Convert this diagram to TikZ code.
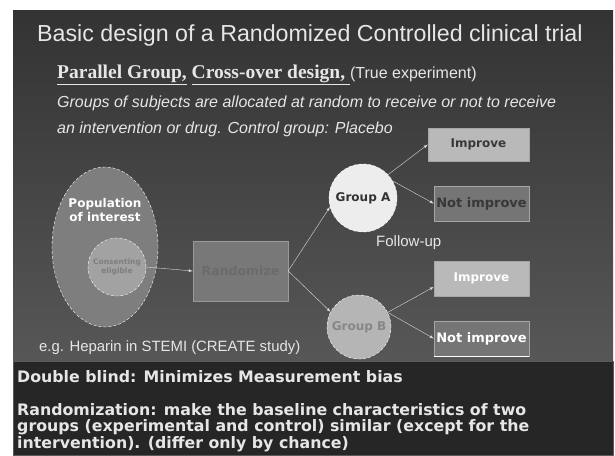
\documentclass[tikz,border=0pt]{standalone}
\usepackage{fontspec}
\usepackage{xcolor}
\setmainfont{Liberation Sans}
\newfontfamily\heavyfont{DejaVu Sans}
\newfontfamily\oldfont{Liberation Serif}
\usetikzlibrary{shapes.geometric}

\definecolor{bgtop}{HTML}{333333}
\definecolor{bgbot}{HTML}{575757}
\definecolor{panel}{HTML}{262626}
\definecolor{edge}{HTML}{5A5A5A}
\definecolor{lighttext}{HTML}{E6E6E6}
\definecolor{popfill}{HTML}{7E7E7E}
\definecolor{consfill}{HTML}{A2A2A2}
\definecolor{randfill}{HTML}{787878}
\definecolor{lightbox}{HTML}{B9B9B9}
\definecolor{darkbox}{HTML}{757575}

\tikzset{
    txt/.style={anchor=west, inner sep=0pt, text=lighttext},
    label/.style={font=\heavyfont\bfseries\fontsize{12}{14}\selectfont},
    group/.style={circle, minimum size=#1, draw=white, densely dashed, thin, label, inner sep=0pt},
    outcome/.style={rectangle, minimum width=95pt, minimum height=35pt, draw=gray!70, thin, label, inner sep=0pt},
    link/.style={-latex, thin, draw=white!85!black}
}

\begin{document}
\begin{tikzpicture}[x=1pt, y=-1pt]
    % Page and background
    \fill[white] (0,0) rectangle (615,455);
    \shade[top color=bgtop, bottom color=bgbot] (13,10) rectangle (613,361);
    \draw[fill=panel, draw=edge] (13,361) rectangle (613,455);

    % Heading
    \node[txt, font=\fontsize{23.2}{26}\selectfont] (title) at (37,35) {Basic design of a Randomized Controlled clinical trial};
    \node[txt] (kind) at (57,75) {\oldfont\bfseries\fontsize{19.5}{22}\selectfont\underline{Parallel Group,} \underline{Cross-over design,\ }\normalfont\fontsize{16}{18}\selectfont(True experiment)};
    \node[txt, font=\itshape\fontsize{16}{18}\selectfont] (desc1) at (57,103) {Groups of subjects are allocated at random to receive or not to receive};
    \node[txt, font=\itshape\fontsize{16}{18}\selectfont] (desc2) at (57,129) {an intervention or drug. Control group: Placebo};

    % Population and randomization
    \node[ellipse, minimum width=106pt, minimum height=160pt, fill=popfill, draw=white, densely dashed, thin] (pop) at (105,247) {};
    \node[label, text=white, align=center, inner sep=0pt] (poptext) at (105,210) {Population\\of interest};
    \node[group=58pt, fill=consfill, text=popfill, align=center, font=\heavyfont\bfseries\fontsize{7.5}{9}\selectfont] (cons) at (117,267) {Consenting\\eligible};
    \node[rectangle, minimum width=95pt, minimum height=60pt, fill=randfill, draw=gray!80, thin, label, font=\heavyfont\bfseries\fontsize{12.5}{14}\selectfont, text=black!58] (rand) at (240.5,271) {Randomize};

    % Groups
    \node[group=68pt, fill=white!93!black, text=black!80] (ga) at (363,198) {Group A};
    \node[group=64pt, fill=white!71!black, text=white!53!black] (gb) at (359,327) {Group B};

    % Outcomes
    \node[outcome, minimum width=101pt, minimum height=33pt, fill=lightbox, text=black!78] (ia) at (478.5,144.5) {Improve};
    \node[outcome, fill=darkbox, text=black!78, font=\heavyfont\bfseries\fontsize{13}{15}\selectfont] (na) at (481.5,203.5) {Not improve};
    \node[outcome, fill=lightbox, text=white] (ib) at (481.5,278.5) {Improve};
    \node[outcome, fill=darkbox, text=white, font=\heavyfont\bfseries\fontsize{13}{15}\selectfont] (nb) at (481.5,338.5) {Not improve};
    \draw[white, thick] (nb.south west) -- (nb.south east);

    \node[txt, font=\fontsize{15}{17}\selectfont] (follow) at (376,243) {Follow-up};
    \node[txt, font=\fontsize{14.9}{17}\selectfont] (example) at (39,348) {e.g. Heparin in STEMI (CREATE study)};

    % Arrows
    \draw[link] (cons.east) -- (rand.west);
    \draw[link] (rand.east) -- (ga.195);
    \draw[link] (rand.east) -- (gb.152);
    \draw[link] (ga.43) -- (ia.west);
    \draw[link] (ga.30) -- (na.west);
    \draw[link] (gb.27) -- (ib.190);
    \draw[link] (gb.27) -- (nb.west);

    % Bottom notes
    \node[txt, font=\heavyfont\bfseries\fontsize{15.8}{16.5}\selectfont] (blind) at (17,377) {Double blind: Minimizes Measurement bias};
    \node[txt, anchor=north west, align=left, font=\heavyfont\bfseries\fontsize{15.8}{16.5}\selectfont] (rnote) at (17,403) {Randomization: make the baseline characteristics of two\\groups (experimental and control) similar (except for the\\intervention). (differ only by chance)};
\end{tikzpicture}
\end{document}
